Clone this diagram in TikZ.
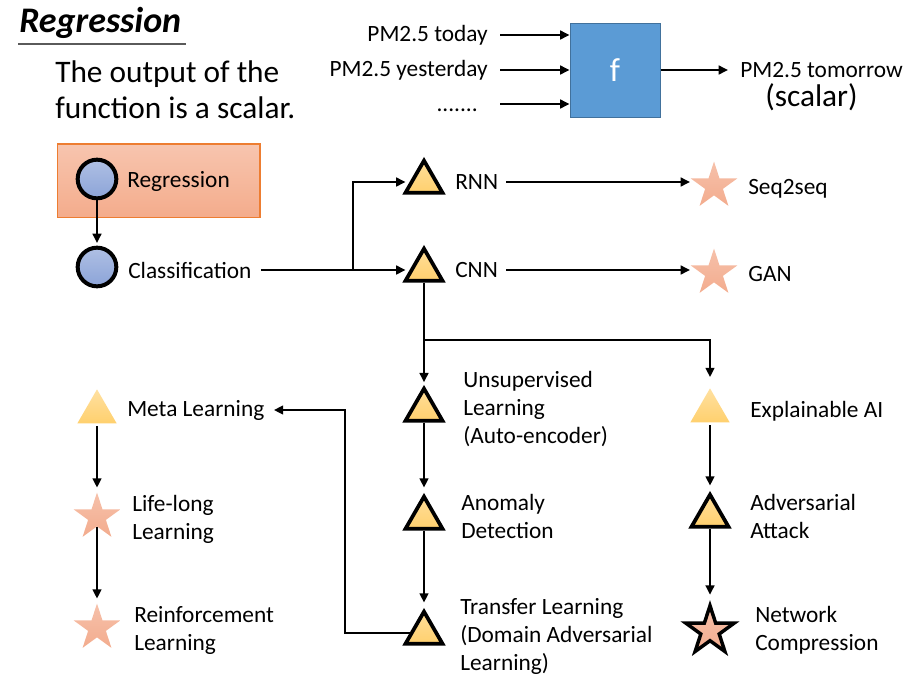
\documentclass[tikz,border=0pt]{standalone}
\usepackage{fontspec}
\setmainfont{Carlito}
\usetikzlibrary{shapes.geometric,arrows.meta}

\definecolor{triyellow}{RGB}{255,208,110}
\definecolor{starpink}{RGB}{243,172,142}
\definecolor{dotblue}{RGB}{140,164,216}
\definecolor{regorange}{RGB}{244,172,140}
\definecolor{regedge}{RGB}{237,125,49}
\definecolor{fblue}{RGB}{91,155,213}
\definecolor{fedge}{RGB}{65,113,156}

\tikzset{
  flow/.style={line width=2.2pt, -{Triangle[length=7pt,width=6.5pt]}},
  lbl/.style={inner sep=0pt, anchor=west, align=left, font=\fontsize{17.5}{21}\selectfont},
  tri/.style={regular polygon, regular polygon sides=3, inner sep=0pt, minimum size=32pt,
    draw=black, line width=2.8pt, top color=triyellow!70!white, bottom color=triyellow},
  trilight/.style={regular polygon, regular polygon sides=3, inner sep=0pt, minimum size=34pt,
    top color=triyellow!65!white, bottom color=triyellow},
  starnode/.style={star, star points=5, star point ratio=2.618, inner sep=0pt,
    minimum size=36.75pt, top color=starpink!75!white, bottom color=starpink},
  bluedot/.style={circle, inner sep=0pt, minimum size=29pt, draw=black, line width=3pt,
    top color=dotblue!70!white, bottom color=dotblue},
}

\begin{document}
\begin{tikzpicture}[x=0.75pt,y=0.75pt,yscale=-1,xscale=1]
\useasboundingbox (0,0) rectangle (919,689);

% Title
\node (title) [anchor=west, inner sep=0pt, font=\fontsize{27}{32}\selectfont\bfseries\itshape] at (19,23) {Regression};
\draw [line width=1.5pt, color={rgb,255:red,90;green,90;blue,90}] (18,44) -- (186,44);
% Text Node
\node (desc) [lbl, font=\fontsize{23.5}{27}\selectfont] at (55,90) {The output of the\\function is a scalar.};

%Shape: function box
\node (fbox) [draw=fedge, fill=fblue, line width=0.75pt, minimum width=67.5pt, minimum height=70.5pt,
  text=white, font=\fontsize{25}{30}\selectfont] at (615,70) {f};
% Text Node
\node (today) [lbl, anchor=east] at (488,35) {PM2.5 today};
\node (yday) [lbl, anchor=east] at (488,70) {PM2.5 yesterday};
\node (etc) [lbl, anchor=base east] at (478,111) {.......};
\node (tomorrow) [lbl] at (740,70) {PM2.5 tomorrow};
\node (scalar) [lbl, font=\fontsize{23.5}{27}\selectfont] at (765,97) {(scalar)};
\coordinate (in1) at (500,35);
\coordinate (in2) at (500,70);
\coordinate (in3) at (500,104);
\draw [flow] (in1) -- (in1 -| fbox.west);
\draw [flow] (in2) -- (in2 -| fbox.west);
\draw [flow] (in3) -- (in3 -| fbox.west);
\draw [flow] (fbox.east) -- ([xshift=-9pt]tomorrow.west);

%Shape: Regression box
\node (regbox) [draw=regedge, line width=1pt, top color=regorange!70!white, bottom color=regorange,
  minimum width=152pt, minimum height=55pt, inner sep=0pt] at (158.5,180.5) {};
\node (regc) [bluedot] at (97,179) {};
\node (regtxt) [lbl] at (127,181) {Regression};
\node (clsc) [bluedot] at (97,267) {};
\node (clstxt) [lbl] at (128,270) {Classification};

%Shape: triangles
\node (rnn) [tri] at (424,182) {};
\node (cnn) [tri] at (424,270) {};
\node (unsup) [tri] at (424,410) {};
\node (ano) [tri] at (424,518) {};
\node (trans) [tri] at (424,633) {};
\node (xai) [trilight] at (710,411) {};
\node (adv) [tri] at (710,516) {};
\node (meta) [trilight] at (97,412) {};

%Shape: stars
\node (seq) [starnode] at (714,186) {};
\node (gan) [starnode] at (714,273) {};
\node (life) [starnode] at (97,517) {};
\node (rein) [starnode] at (97,628) {};
\node (net) [starnode, draw=black, line width=2.6pt, minimum size=38pt] at (710,631) {};

% Text Node
\node (rnnlbl) [lbl] at (455,182) {RNN};
\node (cnnlbl) [lbl] at (455,270) {CNN};
\node (seqlbl) [lbl] at (748,189) {Seq2seq};
\node (ganlbl) [lbl] at (748,274) {GAN};
\node (unsuplbl) [lbl] at (463,409) {Unsupervised\\Learning\\(Auto-encoder)};
\node (anolbl) [lbl] at (461,516) {Anomaly\\Detection};
\node (translbl) [lbl] at (460,636) {Transfer Learning\\(Domain Adversarial\\Learning)};
\node (xailbl) [lbl] at (750,411) {Explainable AI};
\node (advlbl) [lbl] at (750,516) {Adversarial\\Attack};
\node (netlbl) [lbl] at (755,630) {Network\\Compression};
\node (metalbl) [lbl] at (127,410) {Meta Learning};
\node (lifelbl) [lbl] at (132,519) {Life-long\\Learning};
\node (reinlbl) [lbl] at (134,630) {Reinforcement\\Learning};

%Straight Lines
\coordinate (split) at (353,270);
\coordinate (split2) at (424,340);
\coordinate (turn) at (345,410);
\draw [flow, shorten >=2pt] (regc) -- (clsc);
\draw [flow, shorten >=3pt] ([xshift=7pt]clstxt.east) -- (cnn.west);
\draw [flow, shorten >=3pt] (split) |- (rnn.west);
\draw [flow, shorten >=8pt] ([xshift=6pt]rnnlbl.east) -- (rnnlbl.east -| seq.west);
\draw [flow, shorten >=8pt] ([xshift=6pt]cnnlbl.east) -- (cnnlbl.east -| gan.west);
\draw [flow, shorten >=2pt] (cnn) -- (unsup);
\draw [flow, shorten >=8pt] (split2) -| (xai.north);
\draw [flow, shorten >=4pt] (unsup) -- (ano);
\draw [flow, shorten >=4pt] (ano) -- (trans);
\draw [flow, shorten >=4pt, shorten <=2pt] (xai) -- (adv);
\draw [flow, shorten >=4pt] (adv) -- (net);
\draw [flow] (trans.west) -| (turn) -- ([xshift=7pt]metalbl.east);
\draw [flow, shorten >=3pt, shorten <=2pt] (meta) -- (life);
\draw [flow, shorten >=3pt] (life) -- (rein);

\end{tikzpicture}
\end{document}
